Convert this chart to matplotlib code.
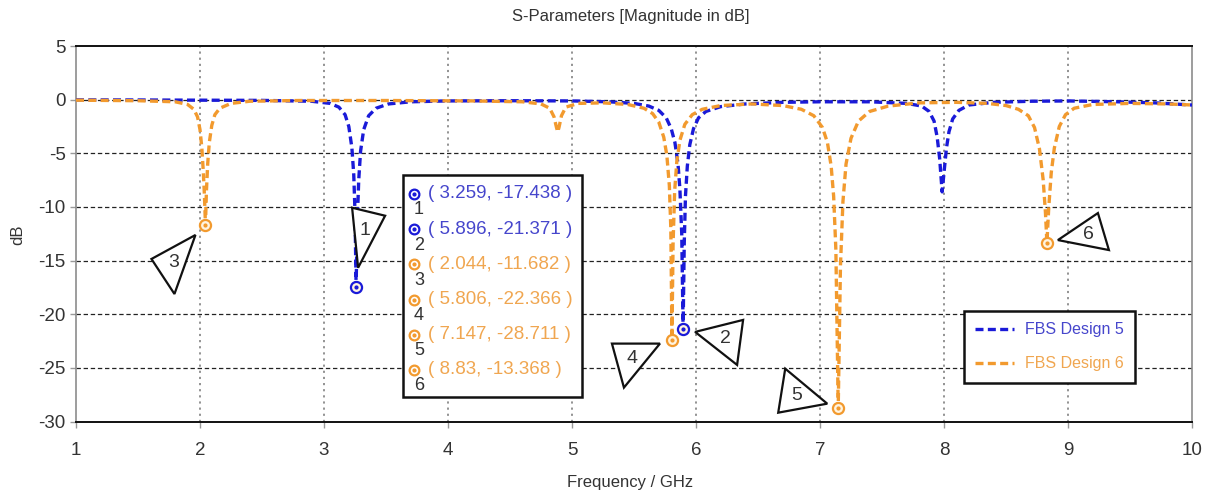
import matplotlib
matplotlib.use("Agg")
import matplotlib.pyplot as plt
from matplotlib.patches import Polygon, Rectangle
from matplotlib.lines import Line2D

plt.rcParams['font.family'] = ['Liberation Sans', 'DejaVu Sans']
plt.rcParams['axes.unicode_minus'] = False

# ---- data ----
f_d5 = [1.0, 1.5, 2.0, 2.5, 2.9, 3.05, 3.12, 3.17, 3.20, 3.225, 3.24, 3.25, 3.259,
        3.268, 3.28, 3.295, 3.32, 3.36, 3.42, 3.52, 3.7, 4.0, 4.5, 5.0, 5.3, 5.5,
        5.62, 5.70, 5.76, 5.80, 5.83, 5.855, 5.87, 5.885, 5.896, 5.905, 5.915, 5.93,
        5.95, 5.98, 6.02, 6.08, 6.2, 6.4, 6.7, 7.0, 7.4, 7.7, 7.82, 7.88, 7.92, 7.945,
        7.965, 7.985, 8.0, 8.02, 8.04, 8.07, 8.12, 8.2, 8.4, 8.7, 9.0, 9.4, 9.7, 10.0]
db_d5 = [-0.02, -0.03, -0.05, -0.07, -0.15, -0.35, -0.7, -1.4, -2.5, -4.5, -7.0, -10.5, -17.438,
         -11.5, -7.5, -4.8, -2.8, -1.5, -0.8, -0.4, -0.2, -0.12, -0.1, -0.12, -0.2, -0.35,
         -0.6, -1.0, -1.7, -2.7, -4.0, -6.0, -8.3, -12.5, -21.371, -13.5, -9.0, -6.2,
         -4.2, -2.7, -1.7, -1.1, -0.65, -0.4, -0.25, -0.2, -0.2, -0.35, -0.6, -1.1, -2.0, -3.5,
         -5.5, -8.6, -6.8, -4.5, -3.0, -1.8, -1.0, -0.5, -0.25, -0.15, -0.12, -0.2, -0.3, -0.5]

f_d6 = [1.0, 1.5, 1.8, 1.9, 1.95, 1.98, 2.0, 2.015, 2.027, 2.036, 2.044, 2.052, 2.062,
        2.075, 2.095, 2.12, 2.16, 2.25, 2.4, 2.8, 3.5, 4.2, 4.6, 4.75, 4.82, 4.855,
        4.875, 4.885, 4.895, 4.915, 4.95, 5.05, 5.25, 5.45, 5.58, 5.65, 5.70, 5.74,
        5.765, 5.785, 5.797, 5.806, 5.815, 5.828, 5.845, 5.87, 5.91, 5.97, 6.05, 6.2,
        6.45, 6.7, 6.85, 6.95, 7.02, 7.06, 7.09, 7.11, 7.128, 7.147, 7.165, 7.185, 7.21,
        7.25, 7.31, 7.4, 7.55, 7.8, 8.1, 8.35, 8.5, 8.6, 8.68, 8.73, 8.77, 8.80, 8.818,
        8.83, 8.845, 8.865, 8.89, 8.93, 8.98, 9.05, 9.2, 9.5, 9.8, 10.0]
db_d6 = [-0.05, -0.1, -0.2, -0.45, -0.9, -1.6, -2.8, -4.5, -6.8, -9.0, -11.682, -8.5, -6.0,
         -4.0, -2.4, -1.4, -0.8, -0.35, -0.15, -0.08, -0.08, -0.12, -0.2, -0.4, -0.8, -1.6,
         -2.6, -3.0, -2.6, -1.5, -0.7, -0.35, -0.3, -0.45, -0.8, -1.3, -2.1, -3.5,
         -5.2, -8.0, -12.0, -22.366, -13.5, -8.5, -5.8, -3.8, -2.3, -1.4, -0.9, -0.55,
         -0.4, -0.55, -0.9, -1.5, -2.6, -4.0, -6.2, -9.0, -14.0, -28.711, -15.5, -9.5, -6.0,
         -3.6, -2.0, -1.1, -0.6, -0.3, -0.25, -0.35, -0.55, -0.9, -1.5, -2.6, -4.6, -7.5, -10.5,
         -13.368, -10.0, -6.8, -4.5, -2.5, -1.4, -0.8, -0.45, -0.35, -0.4, -0.5]

mk_id = [1, 2, 3, 4, 5, 6]
mk_f = [3.259, 5.896, 2.044, 5.806, 7.147, 8.83]
mk_db = [-17.438, -21.371, -11.682, -22.366, -28.711, -13.368]
mk_series = [5, 5, 6, 6, 6, 6]

x_ticks = [1, 2, 3, 4, 5, 6, 7, 8, 9, 10]
y_ticks = [5, 0, -5, -10, -15, -20, -25, -30]

# ---- styles ----
W, H = 1208, 493
BLUE = '#1a1ad8'
ORANGE = '#f29a2e'
BLUE_TXT = '#4646cc'
ORANGE_TXT = '#f0a650'
col = {5: BLUE, 6: ORANGE}
txt_col = {5: BLUE_TXT, 6: ORANGE_TXT}

# triangle callouts: vertex offsets in pixels from the marker (x right, y down)
tri_off = {
    1: [(-4, -79), (29, -71), (2, -19)],
    2: [(12, 3), (60, -9), (54, 36)],
    3: [(-54, 34), (-10, 10), (-31, 69)],
    4: [(-60, 4), (-12, 4), (-48, 48)],
    5: [(-53, -39), (-11, -4), (-60, 5)],
    6: [(11, -3), (51, -30), (62, 7)],
}


def fpx(x, y):
    # image pixel (y down) -> figure fraction
    return x / W, 1 - y / H


fig = plt.figure(figsize=(W / 100, H / 100), dpi=100)
ax = fig.add_axes([76 / W, 1 - 421.5 / H, (1192 - 76) / W, (421.5 - 46) / H])

# grid
for xv in x_ticks[1:-1]:
    ax.axvline(xv, color='#8a8a8a', lw=1.3, ls=(0, (1.2, 2.2)), zorder=1)
for yv in y_ticks[1:-1]:
    ax.axhline(yv, color='#222222', lw=0.9, ls=(0, (3.5, 2.2)), zorder=1)

dash = (0, (2.4, 1.3))
ax.plot(f_d5, db_d5, color=BLUE, lw=2.4, ls=dash, zorder=3, label='FBS Design 5')
ax.plot(f_d6, db_d6, color=ORANGE, lw=2.4, ls=dash, zorder=3, label='FBS Design 6')

# markers on the curves
for i in range(len(mk_id)):
    c = col[mk_series[i]]
    ax.plot(mk_f[i], mk_db[i], marker='o', ms=8, mfc='#fff4e0', mec=c, mew=1.6, zorder=5)
    ax.plot(mk_f[i], mk_db[i], marker='o', ms=2, color=c, zorder=6)

ax.set_xlim(1, 10)
ax.set_ylim(-30, 5)
ax.set_xticks(x_ticks)
ax.set_yticks(y_ticks)
ax.tick_params(axis='both', labelsize=13.5, colors='#333333', length=4, width=1, direction='out')
ax.tick_params(axis='both', color='#999999')
ax.tick_params(axis='x', pad=11)
for side in ['left', 'right']:
    ax.spines[side].set_color('#8c8c8c')
    ax.spines[side].set_linewidth(1.2)
for side in ['top', 'bottom']:
    ax.spines[side].set_color('#111111')
    ax.spines[side].set_linewidth(1.4)

fig.text(*fpx(631, 17), 'S-Parameters [Magnitude in dB]', ha='center', va='center',
         fontsize=12, color='#333333')
fig.text(*fpx(630, 482), 'Frequency / GHz', ha='center', va='center', fontsize=12, color='#333333')
fig.text(*fpx(18, 235), 'dB', ha='center', va='center', rotation=90, fontsize=12, color='#333333')

# triangle callouts
inv = fig.transFigure.inverted()
for i in range(len(mk_id)):
    mx, my = ax.transData.transform((mk_f[i], mk_db[i]))
    verts = [inv.transform((mx + ox, my - oy)) for ox, oy in tri_off[mk_id[i]]]
    fig.add_artist(Polygon(verts, closed=True, facecolor='white', edgecolor='#111111',
                           lw=1.6, transform=fig.transFigure, zorder=7))
    cx = sum(v[0] for v in verts) / 3
    cy = sum(v[1] for v in verts) / 3
    fig.text(cx, cy, str(mk_id[i]), ha='center', va='center', fontsize=14,
             color='#333333', zorder=8)

# marker value box
bx0, by0 = fpx(403, 397)
bx1, by1 = fpx(582, 175)
fig.add_artist(Rectangle((bx0, by0), bx1 - bx0, by1 - by0, facecolor='white',
                         edgecolor='#111111', lw=1.8, transform=fig.transFigure, zorder=9))
for i in range(len(mk_id)):
    row_y = 194 + i * 35.2
    c = col[mk_series[i]]
    fig.add_artist(Line2D([fpx(414, row_y)[0]], [fpx(414, row_y)[1]], marker='o', ms=7,
                          mfc='white', mec=c, mew=1.6, transform=fig.transFigure, zorder=10))
    fig.add_artist(Line2D([fpx(414, row_y)[0]], [fpx(414, row_y)[1]], marker='o', ms=2,
                          color=c, transform=fig.transFigure, zorder=11))
    fig.text(*fpx(419, row_y + 16), str(mk_id[i]), ha='center', va='center', fontsize=13,
             color='#333333', zorder=11)
    fig.text(*fpx(428, row_y), f'( {mk_f[i]}, {mk_db[i]} )', ha='left', va='center',
             fontsize=13.5, color=txt_col[mk_series[i]], zorder=11)

# legend
leg = ax.legend(loc='upper left', bbox_to_anchor=fpx(964, 311), bbox_transform=fig.transFigure,
                fontsize=11.5, frameon=True, fancybox=False, framealpha=1, edgecolor='#111111',
                handlelength=2.4, handletextpad=0.7, borderpad=0.7, labelspacing=1.2,
                borderaxespad=0, labelcolor=[BLUE_TXT, ORANGE_TXT])
leg.get_frame().set_linewidth(1.8)
leg.set_zorder(10)

fig.savefig('out.png', dpi=100)
